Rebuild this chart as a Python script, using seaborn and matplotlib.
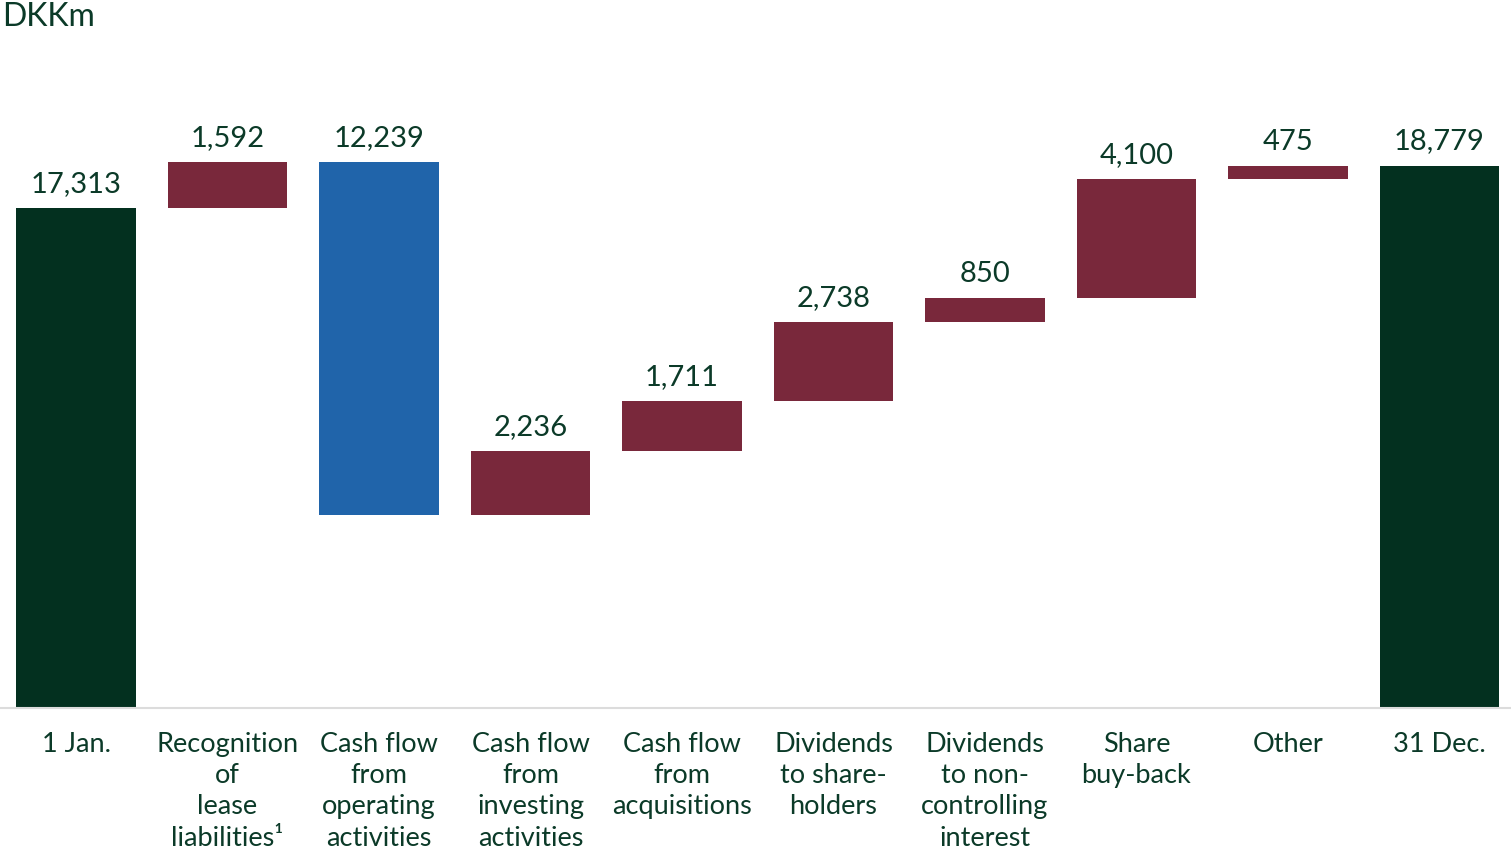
import matplotlib
matplotlib.use("Agg")
import matplotlib.pyplot as plt
import seaborn as sns
import numpy as np
import pandas as pd

categories = [
    "1 Jan.",
    "Recognition\nof\nlease\nliabilities\u00b9",
    "Cash flow\nfrom\noperating\nactivities",
    "Cash flow\nfrom\ninvesting\nactivities",
    "Cash flow\nfrom\nacquisitions",
    "Dividends\nto share-\nholders",
    "Dividends\nto non-\ncontrolling\ninterest",
    "Share\nbuy-back",
    "Other",
    "31 Dec.",
]
start_value = 17313
changes = [1592, -12239, 2236, 1711, 2738, 850, 4100, 475]
end_value = 18779
labels = ["17,313", "1,592", "12,239", "2,236", "1,711", "2,738", "850", "4,100", "475", "18,779"]

GREEN = "#03301f"
RED = "#79283b"
BLUE = "#2064aa"
TEXT = "#0b3a28"

# build waterfall bottoms / tops
bottoms, tops, kinds = [0], [start_value], ["total"]
level = start_value
for c in changes:
    new = level + c
    bottoms.append(min(level, new))
    tops.append(max(level, new))
    kinds.append("up" if c > 0 else "down")
    level = new
bottoms.append(0)
tops.append(end_value)
kinds.append("total")

df = pd.DataFrame({"cat": categories, "top": tops, "bottom": bottoms, "kind": kinds})
color_map = {"total": GREEN, "up": RED, "down": BLUE}

sns.set_theme(style="white")
plt.rcParams["font.family"] = ["Lato", "DejaVu Sans"]

fig = plt.figure(figsize=(15.11, 8.52), dpi=100)
ax = fig.add_axes([0, 1 - 708 / 852, 1, 635.4 / 852])

sns.barplot(data=df, x="cat", y="top", hue="kind", palette=color_map,
            dodge=False, width=0.79, linewidth=0, legend=False, ax=ax, saturation=1)
sns.barplot(data=df, x="cat", y="bottom", color="white",
            width=0.81, linewidth=0, ax=ax, saturation=1)

for i, (t, lab) in enumerate(zip(df["top"], labels)):
    ax.annotate(lab, (i, t), xytext=(0, 8), textcoords="offset points",
                ha="center", va="bottom", fontsize=21, color=TEXT)

ax.set_xlim(-0.5017, 9.472)
ax.set_ylim(0, 22000)
ax.set_xlabel("")
ax.set_ylabel("")
ax.set_yticks([])
ax.set_xticks(range(len(categories)))
ax.set_xticklabels(categories, fontsize=19.5, color=TEXT, linespacing=1.32, va="top")
ax.tick_params(axis="x", length=0, pad=17)
for s in ["top", "right", "left"]:
    ax.spines[s].set_visible(False)
ax.spines["bottom"].set_color("#dcdcdc")
ax.spines["bottom"].set_linewidth(1.5)
ax.spines["bottom"].set_zorder(5)

fig.text(2 / 1511, 1 - 2 / 852, "DKKm", fontsize=23, color=TEXT, ha="left", va="top")

fig.savefig("out.png", dpi=100, facecolor="white")
